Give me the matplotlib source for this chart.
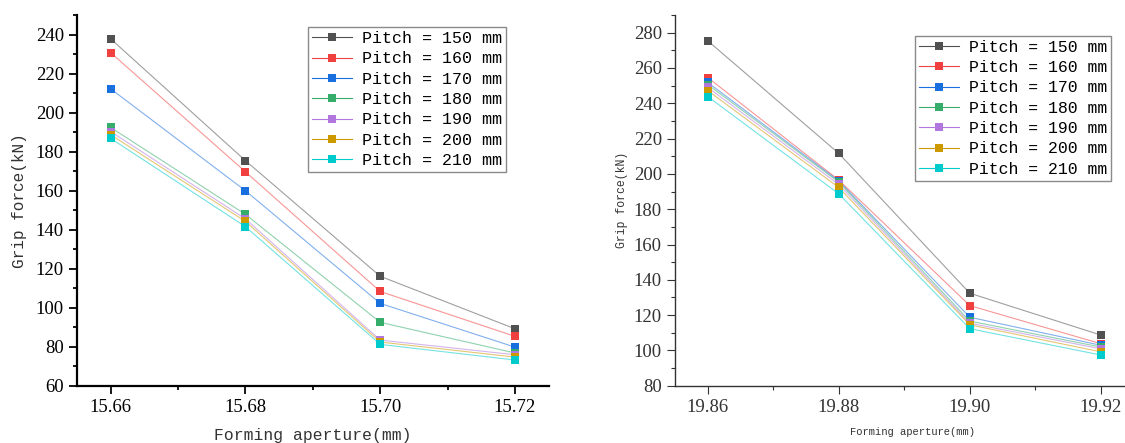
import numpy as np
import matplotlib
matplotlib.use("Agg")
import matplotlib.pyplot as plt
from matplotlib.ticker import MultipleLocator, FormatStrFormatter

# 成形孔径 vs 夹持力, two groups of pitch
pitches = [150, 160, 170, 180, 190, 200, 210]
colors = ["#515151", "#F14040", "#1A6FDF", "#37AD6B", "#B177DE", "#CC9900", "#00CBCC"]

aperture_a = [15.66, 15.68, 15.70, 15.72]
force_a = [
    [237.8, 175.4, 116.2, 89.3],
    [230.7, 169.7, 108.4, 85.4],
    [212.2, 160.0, 102.3, 79.9],
    [192.4, 147.9, 92.6, 76.9],
    [190.3, 145.6, 83.5, 76.0],
    [188.7, 144.3, 82.5, 74.8],
    [186.8, 141.6, 81.3, 73.3],
]

aperture_b = [19.86, 19.88, 19.90, 19.92]
force_b = [
    [275.4, 211.6, 132.4, 108.7],
    [254.6, 196.5, 125.4, 103.8],
    [251.8, 196.0, 118.8, 102.9],
    [250.6, 195.3, 116.6, 101.9],
    [249.0, 194.0, 115.4, 100.9],
    [247.2, 192.3, 114.5, 99.2],
    [243.8, 188.7, 112.3, 97.4],
]

labels = ["Pitch = %d mm" % p for p in pitches]

serif = "Liberation Serif"
mono = "Liberation Mono"

fig = plt.figure(figsize=(11.25, 4.43), dpi=100)


def draw(ax, x, ys, xlim, ylim, ycolor, spine_w, lw_line, msize, fs_lab, lab_pos, leg_pos, leg_fs):
    for y, c, lab in zip(ys, colors, labels):
        ax.plot(x, y, color=c, lw=lw_line, alpha=0.55, marker="s", ms=msize,
                mfc=c, mec=c, mew=0, label=lab)
        # markers at full strength on top of the faint line
        ax.plot(x, y, ls="none", marker="s", ms=msize, mfc=c, mec=c, mew=0)
    ax.set_xlim(*xlim)
    ax.set_ylim(*ylim)
    ax.set_xticks(x)
    ax.xaxis.set_major_formatter(FormatStrFormatter("%.2f"))
    ax.xaxis.set_minor_locator(MultipleLocator(0.01))
    ax.yaxis.set_major_locator(MultipleLocator(20))
    ax.yaxis.set_minor_locator(MultipleLocator(10))
    for s in ["top", "right"]:
        ax.spines[s].set_visible(False)
    for s in ["left", "bottom"]:
        ax.spines[s].set_linewidth(spine_w)
        ax.spines[s].set_color(ycolor)
    ax.tick_params(which="major", direction="out", length=6, width=spine_w * 0.8,
                   color=ycolor, labelcolor=ycolor, labelsize=13.5, pad=3.5)
    ax.tick_params(which="minor", direction="out", length=3.2, width=spine_w * 0.8, color=ycolor)
    for t in ax.get_xticklabels() + ax.get_yticklabels():
        t.set_fontfamily(serif)

    ax.set_xlabel("Forming aperture(mm)", fontfamily=mono, fontsize=fs_lab[0], color="#333333")
    ax.set_ylabel("Grip force(kN)", fontfamily=mono, fontsize=fs_lab[1], color="#333333")
    ax.xaxis.set_label_coords(lab_pos[0], lab_pos[1])
    ax.yaxis.set_label_coords(lab_pos[2], lab_pos[3])

    handles = ax.get_lines()[::2]
    leg = ax.legend(handles, labels, loc="upper left", bbox_to_anchor=leg_pos,
                    borderaxespad=0, prop={"family": mono, "size": leg_fs},
                    handlelength=2.4, handletextpad=0.6, labelspacing=0.32,
                    borderpad=0.25, fancybox=False, framealpha=1)
    leg.get_frame().set_edgecolor("#8a8a8a")
    leg.get_frame().set_linewidth(1.0)
    for h in leg.legend_handles:
        h.set_alpha(1)
        h.set_linewidth(0.8)
    for h, c in zip(leg.legend_handles, colors):
        h.set_color(c)
        h.set_alpha(None)
    return ax


ax1 = fig.add_axes([0.0684, 0.1287, 0.4193, 0.8375])
draw(ax1, aperture_a, force_a, (15.655, 15.725), (60, 250), "black", 1.6, 0.8, 6.3,
     (11.8, 11.6), (0.5, -0.113, -0.106, 0.5), (0.4897, 0.9677), 12)

ax2 = fig.add_axes([0.6, 0.1293, 0.4076, 0.8368])
draw(ax2, aperture_b, force_b, (19.855, 19.925), (80, 290), "#333333", 1.0, 0.8, 5.6,
     (7.6, 8.3), (0.517, -0.111, -0.1025, 0.5), (0.5234, 0.944), 11.9)

fig.savefig("out.png", dpi=100)
